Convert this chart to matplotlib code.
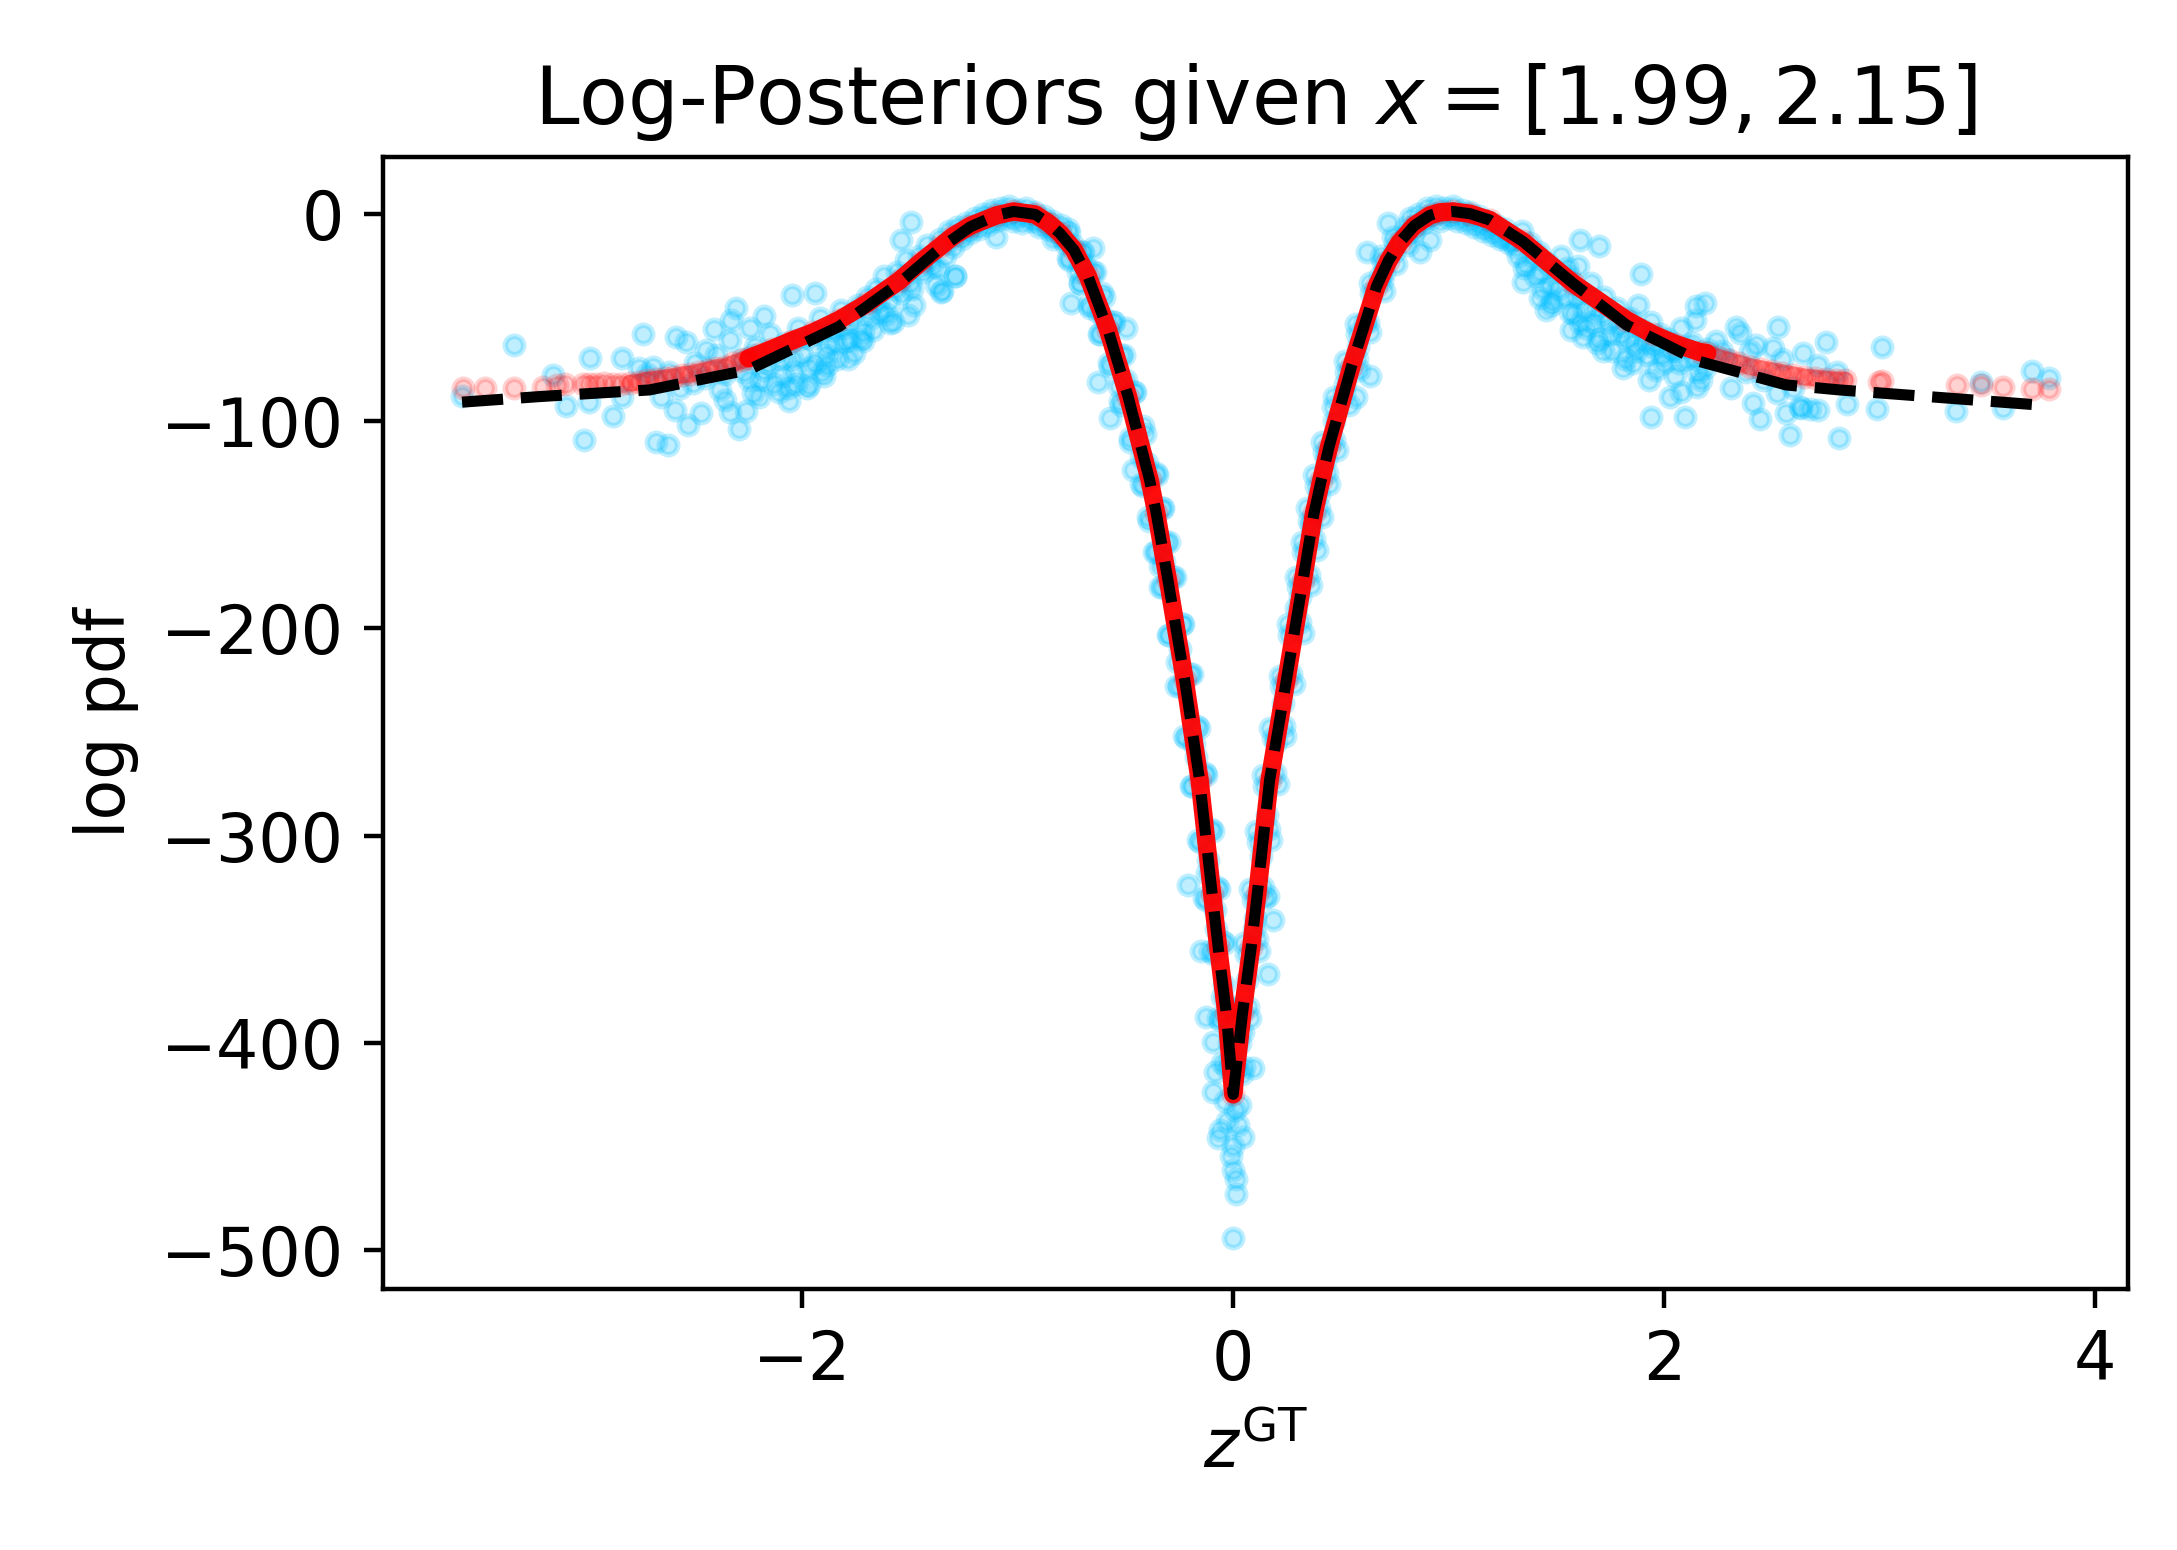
import numpy as np
import matplotlib
matplotlib.use("Agg")
import matplotlib.pyplot as plt

# ---------------- data ----------------
# true log-posterior (black dashed line)
curve_z = [-3.58, -3.22, -2.71, -2.25, -1.83, -1.55, -1.36, -1.22, -1.10, -1.02,
           -0.92, -0.86, -0.805, -0.74, -0.674, -0.581, -0.488, -0.388, -0.357, -0.303,
           -0.225, -0.156, -0.098, -0.070, -0.032, 0.0, 0.043, 0.084, 0.112, 0.169,
           0.247, 0.324, 0.375, 0.409, 0.445, 0.549, 0.665, 0.72, 0.773, 0.84, 0.912,
           0.96, 1.02, 1.10, 1.19, 1.345, 1.578, 1.825, 2.166, 2.568, 2.816, 3.326, 3.783]
curve_logp = [-90.7, -88.0, -84.8, -75.1, -54.2, -33.2, -16.3, -6.0, -0.5, 1.4,
              0.0, -4.0, -9.1, -17.1, -30.0, -55.8, -88.0, -128.3, -144.4, -176.6,
              -224.9, -273.2, -328.0, -353.7, -385.9, -425.0, -385.9, -353.7, -328.0, -273.2,
              -224.9, -176.6, -144.4, -128.3, -112.2, -73.5, -34.9, -22.5, -13.5, -5.5, -0.5,
              1.0, 1.4, 0.3, -2.7, -13.1, -33.3, -53.4, -71.1, -82.4, -84.8, -88.8, -92.4]

# estimated log-posterior (red points)
red_z = [-3.576, -3.475, -3.34, -3.205, -3.14, -3.10, -3.02, -2.99, -2.96, -2.92,
         -2.88, -2.84, -2.80, -2.76, -2.72, -2.68, -2.64, -2.60, -2.56, -2.52,
         -2.48, -2.44, -2.40, -2.36, -2.32, -2.28, -2.25,
         -2.20, -2.14, -2.05, -1.95, -1.83, -1.70, -1.55, -1.45, -1.36, -1.30,
         -1.22, -1.10, -1.02, -0.92, -0.86, -0.805, -0.74, -0.674, -0.581, -0.488, -0.388,
         -0.357, -0.303, -0.225, -0.156, -0.098, -0.070, -0.032, 0.0, 0.043, 0.084,
         0.112, 0.169, 0.247, 0.324, 0.375, 0.409, 0.445, 0.549, 0.665, 0.72, 0.773,
         0.84, 0.912, 0.96, 1.02, 1.10, 1.19, 1.345, 1.578, 1.825, 1.95, 2.05, 2.166,
         2.20, 2.25, 2.30, 2.35, 2.40, 2.45, 2.50, 2.55, 2.60, 2.65, 2.70, 2.75,
         2.80, 2.84, 3.00, 3.01, 3.36, 3.47, 3.574, 3.709, 3.787]
red_logp = [-84.0, -84.0, -84.0, -83.5, -82.5, -82.0, -82.0, -81.7, -81.7, -81.5,
            -81.7, -81.7, -81.5, -81.0, -80.0, -79.5, -79.0, -78.4, -77.5, -77.0,
            -76.0, -75.0, -74.0, -73.5, -72.0, -70.5, -69.5,
            -67.5, -65.0, -61.0, -57.0, -51.0, -43.0, -32.0, -23.0, -15.5, -10.5,
            -5.5, -0.5, 1.4, 0.0, -4.0, -9.0, -17.0, -30.0, -55.8, -88.0, -128.3,
            -144.4, -176.6, -224.9, -273.2, -328.0, -353.7, -385.9, -425.0, -385.9, -353.7,
            -328.0, -273.2, -224.9, -176.6, -144.4, -128.3, -112.2, -73.5, -34.9, -22.5, -13.5,
            -5.5, -0.5, 1.0, 1.4, 0.3, -2.7, -13.1, -33.3, -51.0, -58.0, -62.5, -66.5,
            -67.0, -69.0, -70.5, -72.0, -73.5, -74.5, -75.5, -76.5, -77.5, -78.5, -79.0, -79.5,
            -80.0, -80.0, -80.8, -80.5, -82.4, -82.4, -83.5, -84.4, -84.4]

# noisy log-posterior samples (blue points)
blue_z = [
    # left tail
    -3.58, -3.34, -3.158, -3.099, -2.987, -2.99, -3.015, -2.879, -2.836, -2.836,
    -2.74, -2.694, -2.678, -2.624, -2.655, -2.593, -2.585, -2.539, -2.531, -2.469,
    -2.508, -2.446, -2.412, -2.384, -2.357, -2.338, -2.294, -2.263, -2.338, -2.31,
    -2.33, -2.245, -2.18, -2.229, -2.067, -1.968, -2.047, -1.94, -1.888, -1.78,
    -1.719, -1.595, -1.51, -1.355, -1.494, -1.54, -1.293,
    -2.62, -2.57, -2.50, -2.45, -2.40, -2.36, -2.76, -2.72,
    # left dense cloud
    -2.28, -2.25, -2.22, -2.20, -2.18, -2.15, -2.13, -2.10, -2.08, -2.06,
    -2.04, -2.02, -2.00, -1.98, -1.96, -1.94, -1.92, -1.90, -1.88, -1.86,
    -1.84, -1.82, -1.80, -1.78, -1.76, -1.74, -1.72, -1.70, -1.68, -1.66,
    -1.64, -1.62, -1.60, -1.58, -1.56, -1.54, -1.52, -1.50, -1.48, -1.46,
    -1.44, -1.42, -1.40, -1.38, -1.36, -1.34, -1.32, -1.30,
    -2.27, -2.23, -2.19, -2.16, -2.12, -2.09, -2.05, -2.01, -1.97, -1.93,
    -1.89, -1.85, -1.81, -1.77, -1.73, -1.69, -1.65, -1.61, -1.57, -1.53,
    -1.49, -1.45, -1.41, -1.37, -1.33, -2.11, -2.03, -1.91, -1.79, -1.67,
    # left peak
    -1.28, -1.26, -1.24, -1.22, -1.20, -1.18, -1.16, -1.14, -1.12, -1.10,
    -1.08, -1.06, -1.04, -1.02, -1.00, -0.98, -0.96, -0.94, -0.92, -0.90,
    -0.88, -0.86, -0.84, -0.82, -0.80, -0.78, -0.76, -1.10, -1.35, -1.29,
    -1.27, -1.23, -1.19, -1.15, -1.11, -1.07, -1.03, -0.99, -0.95, -0.91,
    -0.87, -0.83, -0.79,
    # left steep branch
    -0.76, -0.70, -0.71, -0.65, -0.67, -0.61, -0.62, -0.56, -0.57, -0.52,
    -0.52, -0.46, -0.48, -0.42, -0.42, -0.36, -0.39, -0.33, -0.36, -0.31,
    -0.33, -0.28, -0.30, -0.24, -0.25, -0.20, -0.22, -0.17, -0.19, -0.13,
    -0.155, -0.105, -0.125, -0.075, -0.095, -0.05, -0.06, -0.015, -0.035, 0.005,
    -0.628, -0.573, -0.496, -0.465, -0.751, -0.713, -0.651, -0.21,
    -0.148, -0.124, -0.094, -0.086, -0.094,
    -0.745, -0.69, -0.60, -0.50, -0.40, -0.32, -0.245, -0.175, -0.115, -0.08,
    -0.045, -0.02, -0.72, -0.63, -0.53, -0.43, -0.34, -0.26, -0.18, -0.12,
    -0.085, -0.05,
    -0.837, -0.767, -0.712, -0.667, -0.622, -0.577, -0.527, -0.477, -0.427, -0.397,
    -0.369, -0.342, -0.302, -0.264, -0.229, -0.195, -0.165, -0.136, -0.109, -0.07, -0.052,
    -0.768, -0.696, -0.642, -0.598, -0.552, -0.508, -0.456, -0.408, -0.356, -0.325,
    -0.298, -0.271, -0.233, -0.193, -0.158, -0.124, -0.095, -0.066, -0.038, 0.0, 0.019,
    # below the vertex
    0.007, -0.07, 0.0, 0.046, 0.0, 0.012, 0.0, -0.062, -0.03, 0.02,
    -0.01, 0.03, -0.04, 0.015,
    # right steep branch
    -0.01, 0.04, 0.02, 0.07, 0.06, 0.11, 0.09, 0.14, 0.115, 0.165,
    0.145, 0.195, 0.185, 0.235, 0.22, 0.27, 0.26, 0.31, 0.30, 0.35,
    0.325, 0.375, 0.35, 0.40, 0.385, 0.435, 0.42, 0.47, 0.465, 0.515,
    0.525, 0.575, 0.575, 0.625, 0.64, 0.69, 0.695, 0.745, 0.75, 0.80,
    0.162, 0.185, 0.092, 0.16, 0.62, 0.719, 0.634, 0.572,
    0.866, 0.912,
    0.03, 0.065, 0.10, 0.155, 0.20, 0.29, 0.36, 0.43, 0.52, 0.61,
    0.70, 0.045, 0.095, 0.13, 0.23, 0.31, 0.40, 0.47, 0.58, 0.68,
    0.052, 0.08, 0.121, 0.149, 0.177, 0.206, 0.242, 0.284, 0.322, 0.361,
    0.387, 0.412, 0.446, 0.482, 0.537, 0.586, 0.637, 0.702, 0.757, 0.81,
    -0.017, 0.011, 0.052, 0.08, 0.108, 0.137, 0.173, 0.215, 0.253, 0.292,
    0.318, 0.343, 0.377, 0.413, 0.468, 0.517, 0.568, 0.633, 0.688, 0.741,
    # right peak
    0.80, 0.82, 0.84, 0.86, 0.88, 0.90, 0.92, 0.94, 0.96, 0.98,
    1.00, 1.02, 1.04, 1.06, 1.08, 1.10, 1.12, 1.14, 1.16, 1.18,
    1.20, 1.22, 1.24, 1.26, 1.28,
    0.81, 0.85, 0.89, 0.93, 0.97, 1.01, 1.05, 1.09, 1.13, 1.17,
    1.21, 1.25, 1.29,
    # right dense cloud
    1.30, 1.32, 1.34, 1.36, 1.38, 1.40, 1.42, 1.44, 1.46, 1.48,
    1.50, 1.52, 1.54, 1.56, 1.58, 1.60, 1.62, 1.64, 1.66, 1.68,
    1.70, 1.72, 1.74, 1.76, 1.78, 1.80, 1.82, 1.84, 1.86, 1.88,
    1.90, 1.92, 1.94, 1.96, 1.98, 2.00, 2.02, 2.05, 2.08, 2.10,
    2.13, 2.16, 2.20,
    1.31, 1.35, 1.39, 1.43, 1.47, 1.51, 1.55, 1.59, 1.63, 1.67,
    1.71, 1.75, 1.79, 1.83, 1.87, 1.91, 1.95, 1.99, 2.03, 2.07,
    2.11, 2.15, 2.19, 1.45, 1.57, 1.69, 1.81, 1.93, 2.05, 2.17,
    # right tail
    1.895, 1.609, 1.698, 2.189, 2.15, 2.146, 2.336, 2.351, 2.529, 2.754,
    3.014, 2.645, 2.715, 2.429, 2.506, 2.243, 1.856, 1.965, 2.026, 2.081,
    2.153, 1.938, 2.096, 2.313, 2.413, 2.444, 2.584, 2.812, 2.568, 2.63,
    2.715, 2.85, 2.989, 3.354, 2.523, 1.718, 1.624, 1.423, 1.477, 1.345,
    1.562, 1.609, 2.803, 2.638, 2.68, 3.473, 3.574, 3.709, 3.787, 2.29,
    2.38, 2.46, 2.55, 2.60, 2.27, 2.40,
]
blue_logp = [
    # left tail
    -87.9, -63.0, -77.5, -92.5, -69.5, -90.4, -109.0, -97.3, -69.5, -88.0,
    -57.7, -73.5, -109.8, -111.4, -88.0, -94.4, -59.3, -61.7, -101.7, -96.0,
    -81.5, -65.5, -55.5, -84.8, -89.6, -95.3, -103.8, -94.8, -60.6, -45.0,
    -51.0, -55.0, -49.0, -86.4, -84.0, -82.4, -38.9, -38.0, -72.7, -60.6,
    -61.4, -52.6, -48.6, -37.3, -3.5, -12.3, -30.0,
    -76.0, -84.0, -72.0, -79.0, -68.0, -77.0, -74.0, -77.0,
    # left dense cloud
    -70, -80, -64, -88, -75, -58, -82, -70, -62, -90,
    -76, -55, -68, -84, -60, -72, -50, -78, -63, -56,
    -70, -46, -61, -52, -67, -44, -57, -40, -50, -36,
    -47, -30, -42, -52, -28, -38, -22, -33, -44, -20,
    -28, -15, -25, -34, -12, -20, -8, -16,
    -76, -68, -80, -72, -66, -78, -70, -60, -74, -58,
    -68, -62, -55, -48, -60, -46, -42, -48, -36, -30,
    -36, -26, -22, -26, -14, -86, -82, -76, -70, -56,
    # left peak
    -6, -12, -4, -9, -2, -7, 0, -5, 2, -3,
    3, -2, 4, -3, 2, -4, 3, -3, 1, -6,
    -1, -7, -3, -10, -5, -14, -9, -11, -37, -30,
    -10, -7, -5, -2, -1, 0, -1, -1, -1, -3,
    -5, -8, -12,
    # left steep branch
    -22, -18, -33, -28, -44, -38, -58, -52, -73, -68,
    -92, -86, -108, -102, -131, -125, -148, -142, -163, -158,
    -180, -175, -203, -198, -228, -222, -253, -247, -276, -270,
    -303, -297, -331, -325, -357, -351, -389, -383, -412, -405,
    -80.8, -98.5, -55.0, -123.4, -42.9, -22.8, -16.3, -324.0,
    -356.0, -387.5, -399.6, -414.0, -424.0,
    -15, -25, -50, -80, -120, -168, -210, -262, -312, -345,
    -372, -400, -28, -47, -83, -117, -170, -216, -256, -318,
    -336, -378,
    -12, -21, -33, -45, -58, -72, -90, -110, -130, -146,
    -163, -180, -203, -228, -252, -276, -302, -330, -356, -388, -410,
    -7, -18, -28, -40, -52, -68, -86, -106, -126, -142,
    -158, -175, -198, -222, -248, -271, -298, -326, -352, -384, -412,
    # below the vertex
    -432.6, -446.0, -450.0, -445.5, -461.6, -472.9, -494.6, -442.0, -438.0, -440.0,
    -455.0, -430.0, -428.0, -466.0,
    # right steep branch
    -412, -415, -389, -383, -357, -350, -331, -325, -303, -297,
    -276, -270, -253, -247, -228, -222, -203, -197, -180, -174,
    -163, -157, -148, -142, -131, -125, -115, -109, -93, -87,
    -76, -70, -58, -52, -38, -32, -23, -18, -14, -10,
    -367.0, -341.0, -412.5, -329.0, -18.0, -4.3, -78.3, -88.0,
    -18.0, -12.3,
    -400, -370, -340, -290, -255, -190, -150, -118, -82, -52,
    -28, -395, -345, -310, -236, -185, -135, -100, -64, -30,
    -412, -388, -356, -330, -302, -275, -252, -227, -202, -179,
    -162, -146, -130, -114, -92, -75, -57, -37, -24, -15,
    -408, -384, -352, -326, -298, -271, -248, -223, -198, -175,
    -158, -142, -126, -110, -88, -71, -53, -33, -20, -11,
    # right peak
    -6, -2, -8, 0, -4, 3, -2, 4, -3, 3,
    -2, 4, -3, 2, -4, 1, -6, -1, -8, -3,
    -10, -5, -12, -7, -14,
    -9, -5, -2, 0, 0, 0, -1, -2, -4, -6,
    -8, -11, -13,
    # right dense cloud
    -12, -20, -8, -24, -14, -30, -18, -36, -24, -42,
    -28, -20, -40, -30, -48, -25, -38, -55, -33, -45,
    -60, -40, -52, -66, -45, -58, -70, -50, -62, -44,
    -56, -68, -52, -62, -58, -72, -60, -66, -55, -70,
    -62, -76, -65,
    -16, -26, -20, -28, -34, -36, -26, -40, -46, -52,
    -48, -58, -54, -60, -66, -62, -64, -68, -66, -72,
    -64, -70, -74, -46, -56, -62, -74, -80, -78, -80,
    # right tail
    -28.7, -12.3, -15.2, -42.9, -44.2, -51.0, -54.2, -57.1, -54.2, -61.7,
    -64.3, -66.8, -72.7, -63.0, -64.6, -61.1, -71.9, -75.1, -88.0, -85.6,
    -83.2, -98.0, -98.0, -84.0, -91.2, -98.9, -106.5, -108.1, -96.0, -93.1,
    -94.4, -91.5, -94.1, -94.9, -86.4, -65.9, -59.0, -40.5, -43.7, -32.5,
    -47.0, -52.6, -76.2, -93.3, -94.0, -81.2, -93.3, -75.6, -79.1, -70.0,
    -76.0, -80.0, -70.0, -84.0, -66.0, -66.0,
]

title = r"Log-Posteriors given $x = [1.99, 2.15]$"
xlabel = r"$z^{\mathrm{GT}}$"
ylabel = "log pdf"

# ---------------- plotting ----------------
plt.rcParams["font.size"] = 12

fig = plt.figure(figsize=(2177 / 400, 1550 / 400), dpi=400)
ax = fig.add_axes([383 / 2177, 1 - 1289 / 1550, (2128 - 383) / 2177, (1289 - 157) / 1550])

bz = np.array(blue_z)
bl = np.array(blue_logp)
rz = np.array(red_z)
rl = np.array(red_logp)

ax.scatter(bz, bl, s=11, color="deepskyblue", alpha=0.25, zorder=1)
ax.scatter(rz, rl, s=11, color="red", alpha=0.18, zorder=2)
left_tr = (rz >= -2.80) & (rz <= -2.25)
right_tr = (rz >= 2.2) & (rz <= 2.85)
dense = (rz >= -2.25) & (rz <= 2.2)
ax.plot(rz[left_tr], rl[left_tr], color="red", lw=3.0, alpha=0.35,
        solid_capstyle="round", zorder=2.5)
ax.plot(rz[right_tr], rl[right_tr], color="red", lw=3.0, alpha=0.35,
        solid_capstyle="round", zorder=2.5)
ax.plot(rz[dense], rl[dense], color="red", lw=3.3, alpha=0.95,
        solid_capstyle="round", solid_joinstyle="round", zorder=3)
ax.plot(curve_z, curve_logp, color="black", lw=2, linestyle="--", zorder=4)

ax.set_xlim(-3.947, 4.154)
ax.set_ylim(-519, 27.7)
ax.set_xticks([-2, 0, 2, 4])
ax.set_yticks([0, -100, -200, -300, -400, -500])
ax.set_title(title, fontsize=14.4)
ax.set_xlabel(xlabel)
ax.set_ylabel(ylabel)

fig.savefig("out.png", dpi=400)
